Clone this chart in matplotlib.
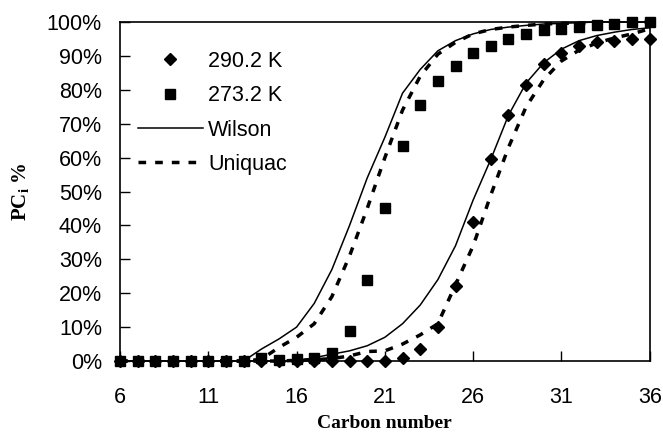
import matplotlib.pyplot as plt
from matplotlib.ticker import PercentFormatter

carbon = list(range(6, 37))

# measured points (%)
pc_290 = [0, 0, 0, 0, 0, 0, 0, 0, 0, 0, 0, 0, 0, 0, 0, 0,
          1, 3.5, 10, 22, 41, 59.5, 72.5, 81.5, 87.5, 91, 93, 94, 94.5, 95, 95]
pc_273 = [0, 0, 0, 0, 0, 0, 0, 0, 1, 0.3, 0.5, 0.8, 2.5, 9, 24, 45,
          63.5, 75.5, 82.5, 87, 91, 93, 95, 96.5, 97.5, 98, 98.5, 99, 99.5, 100, 100]

# model curves (%)
wilson_290 = [0, 0, 0, 0, 0, 0, 0, 0, 0, 0, 0, 1, 2, 3, 4.5, 7,
              11, 16.5, 24, 34, 47.5, 59.5, 72.5, 82, 88, 92, 94.5, 96, 97, 97.8, 98.3]
uniquac_290 = [0, 0, 0, 0, 0, 0, 0, 0, 0, 0, 0.2, 0.4, 0.7, 1.5, 2.8, 3,
               5, 7.7, 11, 22.5, 34, 49, 63, 75, 83, 88.5, 91.7, 93.8, 95.3, 96.5, 98]
wilson_273 = [0, 0, 0, 0, 0, 0, 0, 0, 3.5, 6.5, 10, 17, 27, 40, 54, 66,
              79, 86, 91.5, 94.5, 96.5, 97.8, 98.5, 99, 99.4, 99.6, 99.8, 100, 100, 100, 100]
uniquac_273 = [0, 0, 0, 0, 0, 0, 0, 0, 0.5, 4, 7, 11, 19, 31, 45, 60,
               74, 84, 90.5, 94, 96.5, 97.8, 98.5, 99, 99.4, 99.6, 99.7, 99.8, 99.9, 100, 100]

plt.rcParams['font.family'] = ['Liberation Sans', 'DejaVu Sans']

fig = plt.figure(figsize=(6.63, 4.40), dpi=100)
ax = fig.add_axes([0.181, 0.1795, 0.799, 0.7705])

dash = (0, (2.2, 2.6))
ax.plot(carbon, wilson_273, color='black', lw=1.1, label='_nolegend_')
ax.plot(carbon, uniquac_273, color='black', lw=2.5, linestyle=dash, label='_nolegend_')
ax.plot(carbon, wilson_290, color='black', lw=1.1, label='_nolegend_')
ax.plot(carbon, uniquac_290, color='black', lw=2.5, linestyle=dash, label='_nolegend_')
ax.plot(carbon, pc_290, 'D', color='black', ms=6, ls='none', label='290.2 K')
ax.plot(carbon, pc_273, 's', color='black', ms=7.5, ls='none', label='273.2 K')
# legend-only line entries
ax.plot([], [], color='black', lw=1.1, label='Wilson')
ax.plot([], [], color='black', lw=2.5, linestyle=(0, (2.2, 2.6)), label='Uniquac')

ax.set_xlim(6, 36)
ax.set_ylim(0, 100)
ax.set_xticks(range(6, 37, 5))
ax.set_yticks(range(0, 101, 10))
ax.yaxis.set_major_formatter(PercentFormatter(decimals=0))
ax.tick_params(direction='in', length=7, width=1, labelsize=15.5, pad=13)
ax.tick_params(axis='x', pad=19)
for s in ax.spines.values():
    s.set_linewidth(1.2)
ax.margins(0)
for ln in ax.lines:
    ln.set_clip_on(False)

ax.set_xlabel('Carbon number', family=['Liberation Serif'], fontweight='bold',
              fontsize=14, labelpad=5)
ax.set_ylabel('PC$_\\mathregular{i}$ %', family=['Liberation Serif'], fontweight='bold',
              fontsize=15, labelpad=11)

ax.legend(loc='upper left', bbox_to_anchor=(0.034, 0.915), frameon=False, fontsize=15.5,
          handlelength=3.0, handletextpad=0.25, labelspacing=0.62, borderaxespad=0,
          borderpad=0)

fig.savefig('out.png', dpi=100)
